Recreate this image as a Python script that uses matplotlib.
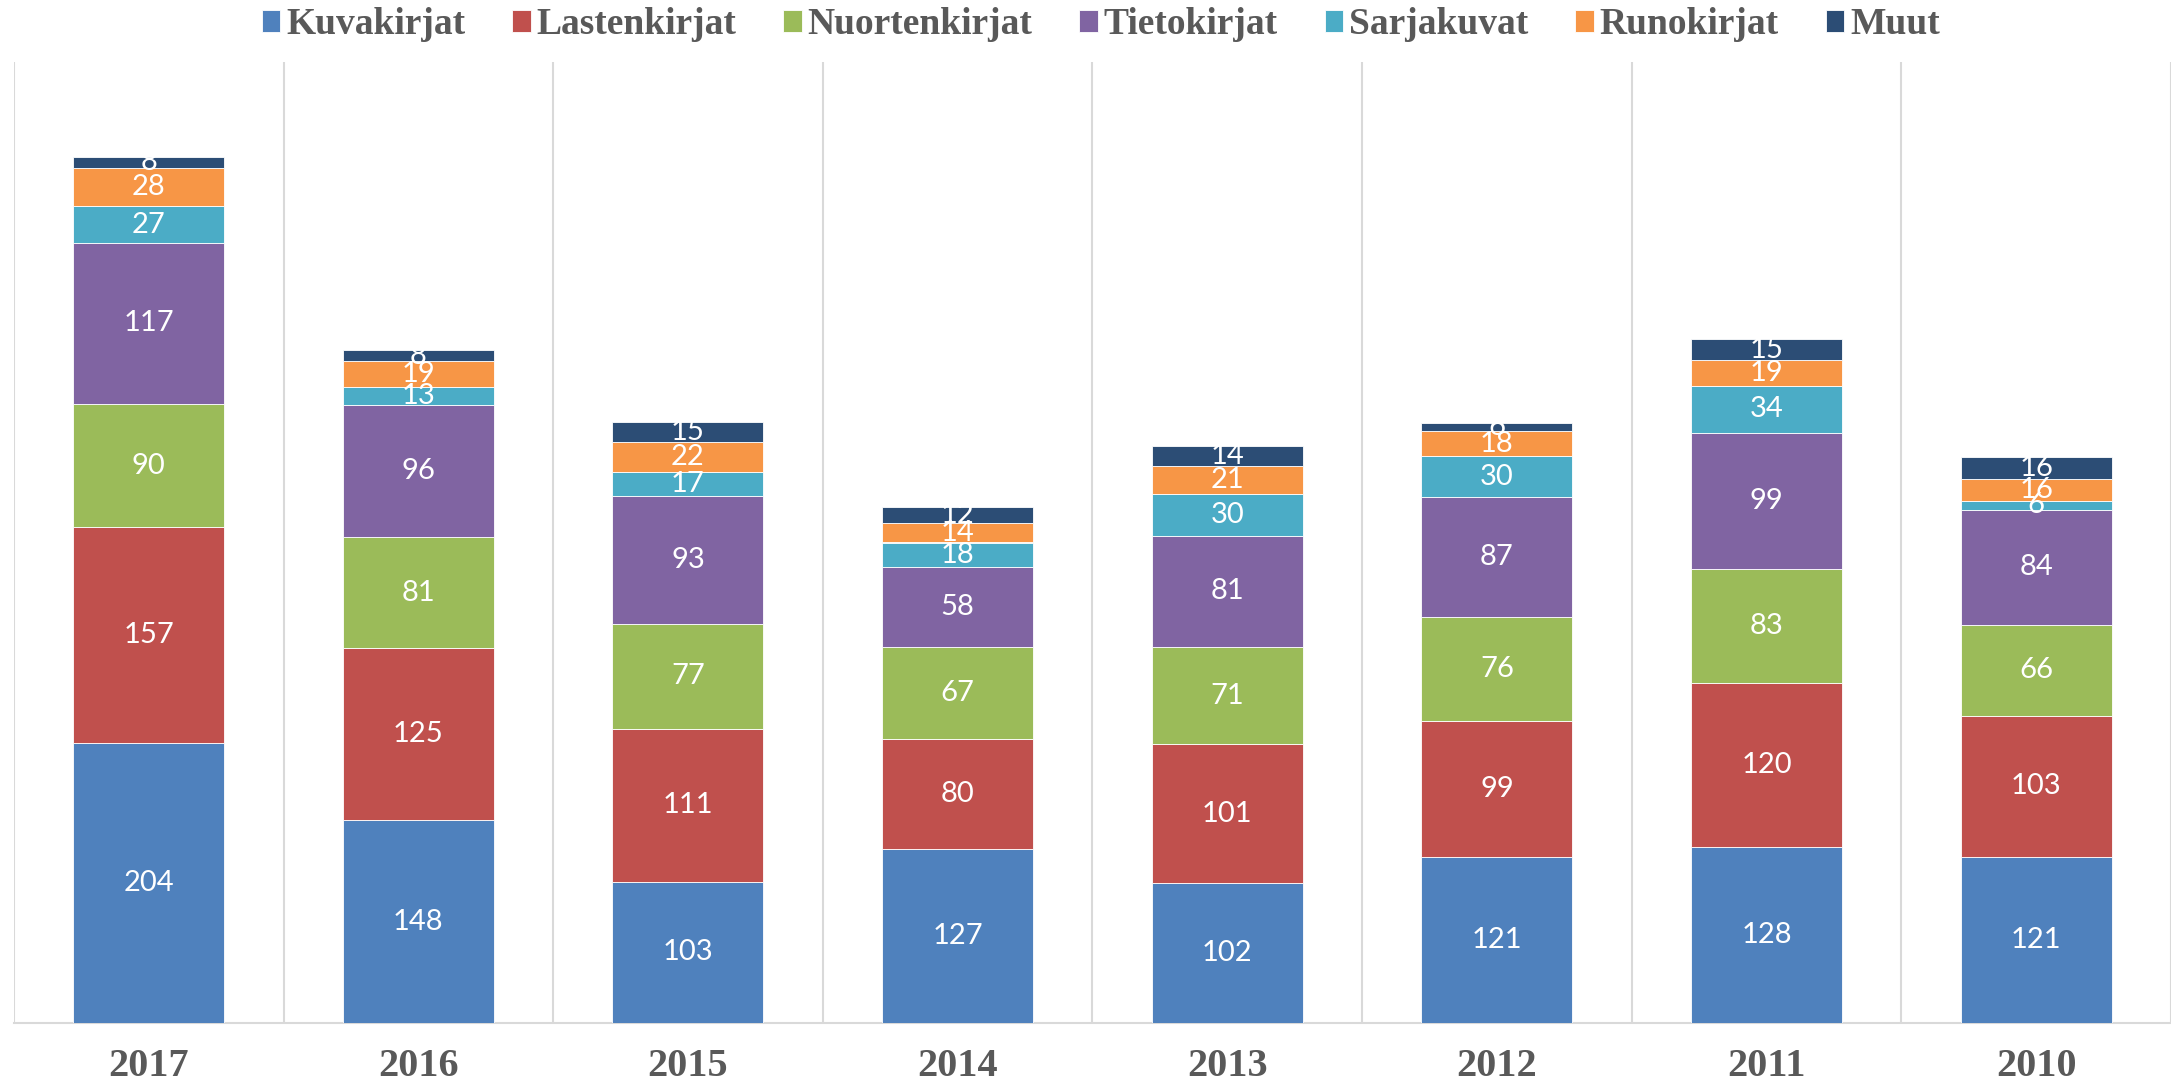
import matplotlib
matplotlib.use("Agg")
import matplotlib.pyplot as plt
from matplotlib.font_manager import FontProperties
import numpy as np

plt.rcParams["font.family"] = ["Liberation Serif", "DejaVu Serif"]
plt.rcParams["font.weight"] = "bold"

years = ["2017", "2016", "2015", "2014", "2013", "2012", "2011", "2010"]
series_names = ["Kuvakirjat", "Lastenkirjat", "Nuortenkirjat", "Tietokirjat",
                "Sarjakuvat", "Runokirjat", "Muut"]
kuvakirjat = [204, 148, 103, 127, 102, 121, 128, 121]
lastenkirjat = [157, 125, 111, 80, 101, 99, 120, 103]
nuortenkirjat = [90, 81, 77, 67, 71, 76, 83, 66]
tietokirjat = [117, 96, 93, 58, 81, 87, 99, 84]
sarjakuvat = [27, 13, 17, 18, 30, 30, 34, 6]
runokirjat = [28, 19, 22, 14, 21, 18, 19, 16]
muut = [8, 8, 15, 12, 14, 6, 15, 16]

series = [kuvakirjat, lastenkirjat, nuortenkirjat, tietokirjat,
          sarjakuvat, runokirjat, muut]
colors = ["#4F81BD", "#C0504D", "#9BBB59", "#8064A2", "#4BACC6", "#F79646", "#2C4D75"]

serif_bold_leg = FontProperties(family="Liberation Serif", weight="bold", size=27)
label_font = FontProperties(family="Lato", weight="normal", size=21)

fig = plt.figure(figsize=(21.71, 10.85), dpi=100)
ax = fig.add_axes([0.0064, 0.057, 0.9936, 0.886])

x = np.arange(len(years))
bottom = np.zeros(len(years))
handles = []
for name, vals, c in zip(series_names, series, colors):
    vals = np.array(vals, dtype=float)
    bars = ax.bar(x, vals, width=0.56, bottom=bottom, color=c, label=name,
                  edgecolor="white", linewidth=0.6, zorder=3)
    handles.append(bars)
    for xi, v, b in zip(x, vals, bottom):
        ax.text(xi, b + v / 2, f"{int(v)}", ha="center", va="center",
                color="white", fontproperties=label_font, zorder=4)
    bottom += vals

ax.set_xlim(-0.5, len(years) - 0.5)
ax.set_ylim(0, 700)
ax.set_yticks([])
ax.set_xticks(x)
ax.set_xticklabels(years, fontsize=29, fontweight="bold",
                   family="Liberation Serif", color="#595959")
ax.tick_params(axis="x", length=0, pad=18)
ax.set_xticks(np.arange(-0.5, len(years), 1.0), minor=True)
ax.tick_params(axis="x", which="minor", length=0)
ax.grid(axis="x", which="minor", color="#D9D9D9", linewidth=1.5, zorder=0)
ax.grid(axis="x", which="major", visible=False)
for s in ["top", "right", "left"]:
    ax.spines[s].set_visible(False)
ax.spines["bottom"].set_color("#D9D9D9")
ax.spines["bottom"].set_linewidth(1.5)

leg = fig.legend(handles=handles, labels=series_names, loc="center",
                 bbox_to_anchor=(0.507, 0.977), ncol=7, frameon=False,
                 prop=serif_bold_leg,
                 handlelength=0.5, handleheight=0.5, handletextpad=0.15,
                 columnspacing=1.25, borderaxespad=0)
for t in leg.get_texts():
    t.set_color("#595959")

fig.savefig("out.png", dpi=100)
